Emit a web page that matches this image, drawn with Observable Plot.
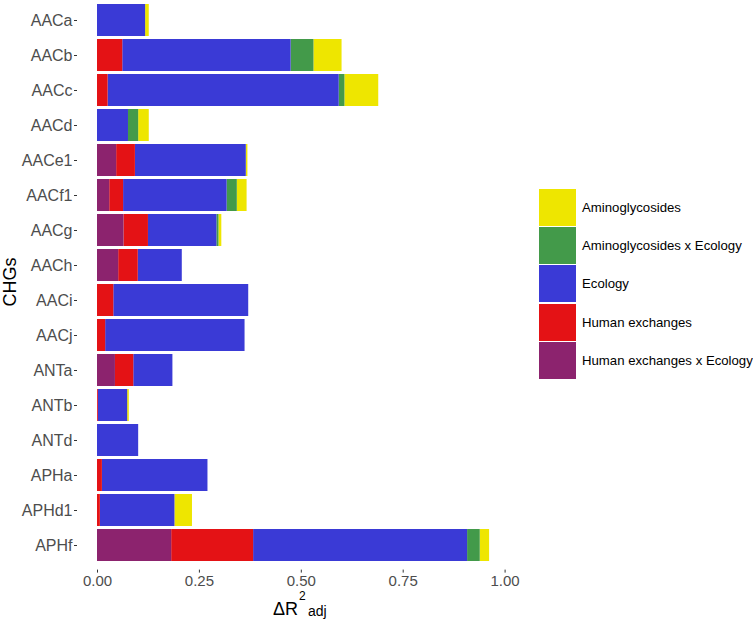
<!DOCTYPE html>
<html>
<head>
<meta charset="utf-8">
<script src="https://cdn.jsdelivr.net/npm/d3@7"></script>
<script src="https://cdn.jsdelivr.net/npm/@observablehq/plot@0.6"></script>
<style>
  body { margin: 0; background: #fff; font-family: "Liberation Sans", Arial, Helvetica, sans-serif; }
  #wrap { position: relative; width: 753px; height: 620px; overflow: hidden; }
  #legend { position: absolute; left: 539px; top: 189px; }
  .lrow { display: flex; align-items: center; height: 38.2px; }
  .lkey { width: 37px; height: 37px; margin-bottom: 1.2px; flex: none; }
  .ltxt { margin-left: 6px; font-size: 13.2px; color: #000; white-space: nowrap; margin-top: -1px; }
</style>
</head>
<body>
<div id="wrap"></div>
<script>
// ---- data ----
const categories = ["AACa","AACb","AACc","AACd","AACe1","AACf1","AACg","AACh","AACi","AACj","ANTa","ANTb","ANTd","APHa","APHd1","APHf"];
const seriesNames = ["Aminoglycosides","Aminoglycosides x Ecology","Ecology","Human exchanges","Human exchanges x Ecology"];
const seriesColors = ["#EEE600","#439A4A","#3A3AD6","#E41215","#8C236E"];
const stackOrder = ["Human exchanges x Ecology","Human exchanges","Ecology","Aminoglycosides x Ecology","Aminoglycosides"];

const humanXEcology   = [0,     0,     0,     0,     0.047, 0.030, 0.065, 0.052, 0,     0,     0.044, 0,     0,     0,     0,     0.182];
const humanExchanges  = [0,     0.062, 0.026, 0,     0.046, 0.034, 0.060, 0.048, 0.040, 0.020, 0.045, 0.002, 0,     0.012, 0.007, 0.201];
const ecology         = [0.118, 0.413, 0.567, 0.076, 0.272, 0.254, 0.168, 0.108, 0.331, 0.342, 0.096, 0.072, 0.101, 0.259, 0.183, 0.525];
const aminoXEcology   = [0,     0.056, 0.014, 0.025, 0,     0.025, 0.005, 0,     0,     0,     0,     0,     0,     0,     0,     0.031];
const aminoglycosides = [0.009, 0.069, 0.083, 0.026, 0.004, 0.024, 0.007, 0,     0,     0,     0,     0.004, 0,     0,     0.043, 0.023];

const xTicks = [0, 0.25, 0.5, 0.75, 1.0];

// ---- table ----
const seriesValues = {
  "Aminoglycosides": aminoglycosides,
  "Aminoglycosides x Ecology": aminoXEcology,
  "Ecology": ecology,
  "Human exchanges": humanExchanges,
  "Human exchanges x Ecology": humanXEcology
};
const rows = [];
categories.forEach((c, i) => {
  seriesNames.forEach(s => rows.push({cat: c, series: s, value: seriesValues[s][i]}));
});

const W = 753, H = 620;
const chart = Plot.plot({
  width: W,
  height: H,
  marginLeft: 77,
  marginRight: 244,
  marginTop: 0,
  marginBottom: 50.4,
  style: { fontFamily: "Liberation Sans, Arial, sans-serif", background: "transparent" },
  x: { domain: [0, 1], range: [97, 504.6] },
  y: { domain: categories, range: [-5.5, 569.6], paddingInner: 0.1, paddingOuter: 0.15 },
  color: { domain: seriesNames, range: seriesColors },
  marks: [
    Plot.barX(rows, Plot.stackX({ order: stackOrder, x: "value", y: "cat", fill: "series", z: "series" })),
    Plot.axisX({ ticks: xTicks, tickFormat: d3.format(".2f"), tickSize: 3, tickPadding: 2.5, fontSize: 15, label: null, stroke: "#333", color: "#4D4D4D" }),
    Plot.axisY({ tickSize: 3, tickPadding: 2, fontSize: 16, label: null, stroke: "#333", color: "#4D4D4D" })
  ]
});
document.getElementById("wrap").appendChild(chart);

// axis titles
const svg = d3.select(chart);
svg.append("text")
  .attr("transform", "translate(15.5,282) rotate(-90)")
  .attr("text-anchor", "middle")
  .style("font-size", "18px")
  .attr("fill", "#000")
  .text("CHGs");
svg.append("text")
  .attr("x", 273).attr("y", 614.5)
  .attr("text-anchor", "start")
  .style("font-size", "18px")
  .attr("fill", "#000")
  .text("ΔR");
svg.append("text")
  .attr("x", 299).attr("y", 600)
  .attr("text-anchor", "start")
  .style("font-size", "12px")
  .attr("fill", "#000")
  .text("2");
svg.append("text")
  .attr("x", 308).attr("y", 616)
  .attr("text-anchor", "start")
  .style("font-size", "14px")
  .attr("fill", "#000")
  .text("adj");

// legend
const legend = d3.select("#wrap").append("div").attr("id", "legend");
seriesNames.forEach((s, i) => {
  const r = legend.append("div").attr("class", "lrow");
  r.append("div").attr("class", "lkey").style("background", seriesColors[i]);
  r.append("div").attr("class", "ltxt").text(s);
});
</script>
</body>
</html>
